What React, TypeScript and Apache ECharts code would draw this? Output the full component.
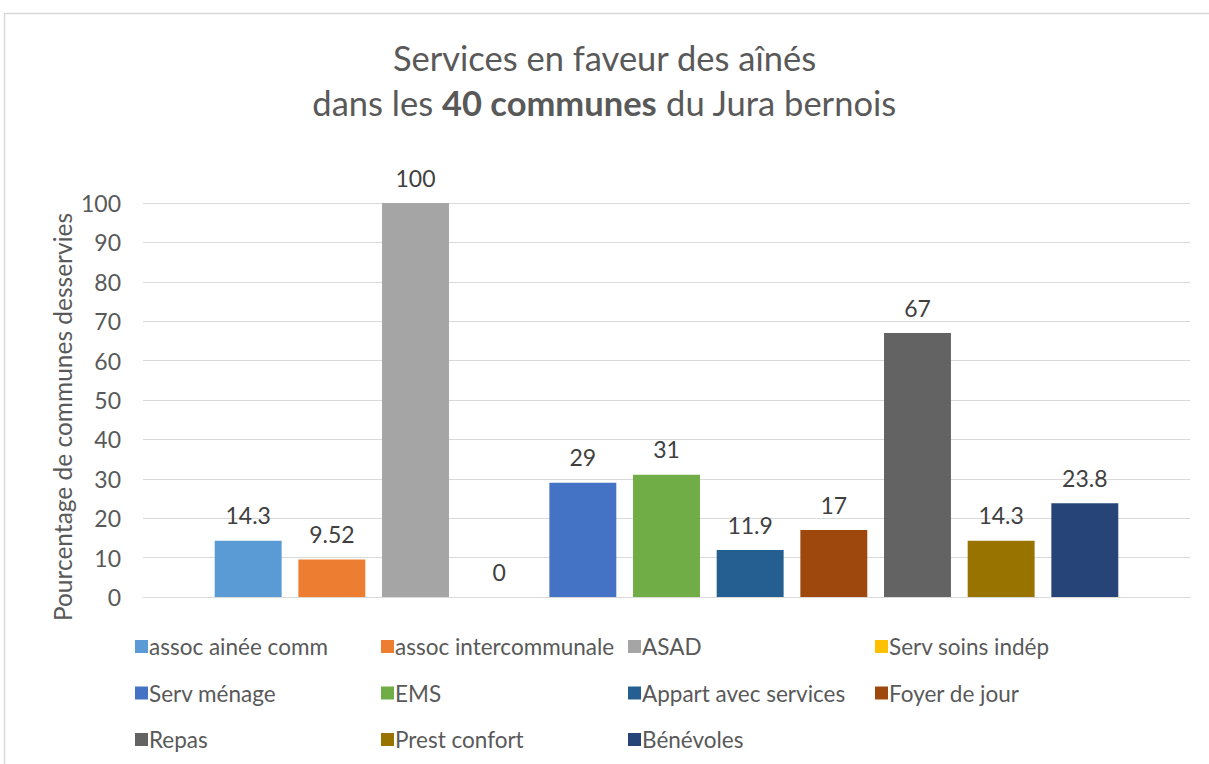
import React, { useEffect, useRef } from "react";
import * as echarts from "echarts";

const seriesNames = [
  "assoc ainée comm",
  "assoc intercommunale",
  "ASAD",
  "Serv soins indép",
  "Serv ménage",
  "EMS",
  "Appart avec services",
  "Foyer de jour",
  "Repas",
  "Prest confort",
  "Bénévoles",
];
const seriesValues = [14.3, 9.52, 100, 0, 29, 31, 11.9, 17, 67, 14.3, 23.8];
const seriesColors = [
  "#5B9BD5",
  "#ED7D31",
  "#A5A5A5",
  "#FFC000",
  "#4472C4",
  "#70AD47",
  "#255E91",
  "#9E480E",
  "#636363",
  "#997300",
  "#264478",
];
const categories = [""];
const legendColumns = [
  ["assoc ainée comm", "Serv ménage", "Repas"],
  ["assoc intercommunale", "EMS", "Prest confort"],
  ["ASAD", "Appart avec services", "Bénévoles"],
  ["Serv soins indép", "Foyer de jour"],
];
const legendLefts = [130, 376, 623, 870];

const FONT = "Lato, 'Open Sans', sans-serif";

export default function App() {
  const ref = useRef<HTMLDivElement>(null);
  useEffect(() => {
    if (!ref.current) return;
    const chart = echarts.init(ref.current, null, { renderer: "svg" });
    const option: any = {
      animation: false,
      backgroundColor: "#ffffff",
      textStyle: { fontFamily: FONT },
      title: {
        text: "Services en faveur des aînés\n{n|dans les }{b|40 communes}{n| du Jura bernois}",
        left: "center",
        top: 30,
        textStyle: {
          fontFamily: FONT,
          fontSize: 34.5,
          fontWeight: "normal",
          color: "#595959",
          lineHeight: 45,
          rich: {
            n: { fontFamily: FONT, fontSize: 34.5, color: "#595959", lineHeight: 45 },
            b: { fontFamily: FONT, fontSize: 34.5, color: "#595959", fontWeight: "bold", lineHeight: 45 },
          },
        },
      },
      legend: legendColumns.map((col, i) => ({
        data: col,
        orient: "vertical",
        left: legendLefts[i],
        top: 630,
        itemWidth: 13,
        itemHeight: 13,
        itemGap: 23.5,
        icon: "rect",
        selectedMode: false,
        textStyle: { fontFamily: FONT, fontSize: 22.5, color: "#595959", padding: [0, 0, 0, -4] },
      })),
      grid: { left: 143, right: 19, top: 203, bottom: 167, containLabel: false },
      xAxis: {
        type: "category",
        data: categories,
        axisLine: { lineStyle: { color: "#d9d9d9", width: 1 } },
        axisTick: { show: false },
        axisLabel: { show: false },
      },
      yAxis: {
        type: "value",
        min: 0,
        max: 100,
        interval: 10,
        axisLine: { show: false },
        axisTick: { show: false },
        axisLabel: { fontFamily: FONT, fontSize: 23, color: "#595959", margin: 22 },
        splitLine: { lineStyle: { color: "#d9d9d9", width: 1 } },
      },
      graphic: [
        {
          type: "rect",
          shape: { x: 4.5, y: 13.5, width: 1220, height: 800 },
          style: { fill: "none", stroke: "#d9d9d9", lineWidth: 1.5 },
          silent: true,
        },
        {
          type: "text",
          x: 62,
          y: 417,
          rotation: Math.PI / 2,
          style: {
            text: "Pourcentage de communes desservies",
            fontFamily: FONT,
            fontSize: 24.5,
            fill: "#595959",
            align: "center",
            verticalAlign: "middle",
          },
        },
      ],
      series: seriesNames.map((name, i) => ({
        type: "bar",
        name,
        data: [seriesValues[i]],
        itemStyle: { color: seriesColors[i] },
        barGap: "25%",
        barCategoryGap: "13.7%",
        label: {
          show: true,
          position: "top",
          distance: 14,
          fontFamily: FONT,
          fontSize: 23,
          color: "#404040",
        },
      })),
    };
    chart.setOption(option);
    return () => chart.dispose();
  }, []);
  return (
    <div
      ref={ref}
      style={{ position: "fixed", left: 0, top: 0, width: 1209, height: 764 }}
    />
  );
}
